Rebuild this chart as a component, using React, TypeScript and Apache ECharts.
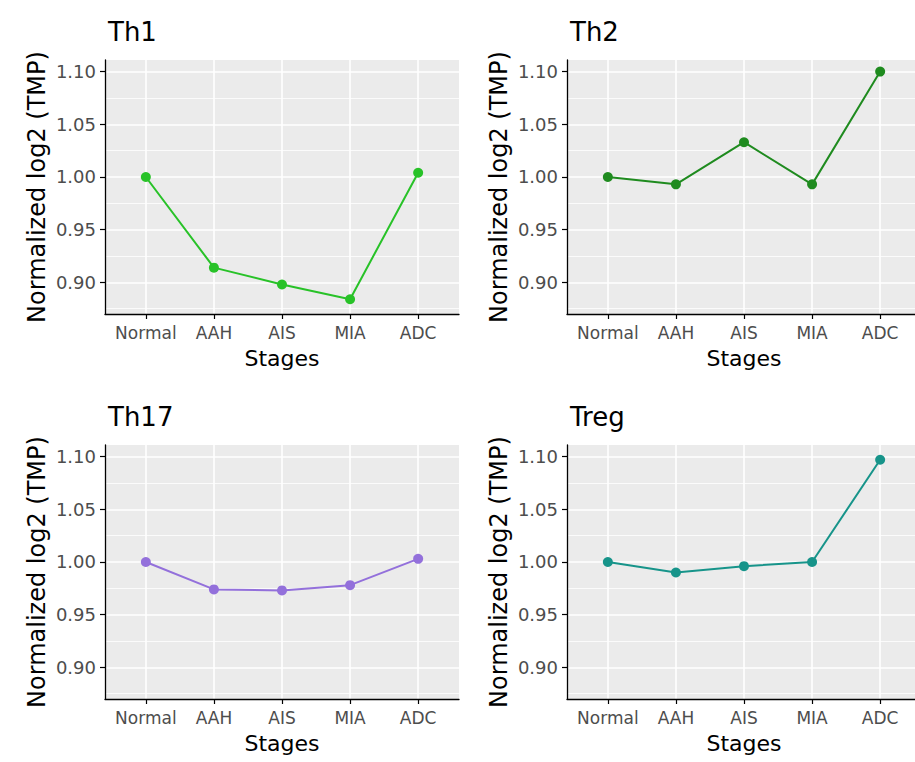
import React, { useEffect, useRef } from "react";
import * as echarts from "echarts";

const stages = ["Normal", "AAH", "AIS", "MIA", "ADC"];
const panelTitles = ["Th1", "Th2", "Th17", "Treg"];
const th1 = [1.0, 0.914, 0.898, 0.884, 1.004];
const th2 = [1.0, 0.993, 1.033, 0.993, 1.1];
const th17 = [1.0, 0.974, 0.973, 0.978, 1.003];
const treg = [1.0, 0.99, 0.996, 1.0, 1.097];
const yTicks = [0.9, 0.95, 1.0, 1.05, 1.1];
const yMinorTicks = [0.875, 0.925, 0.975, 1.025, 1.075];
const yMin = 0.87;
const yMax = 1.111;
const colors = ["#28c228", "#1f8b1f", "#9370db", "#17948a"];
const seriesData = [th1, th2, th17, treg];

const FONT = "DejaVu Sans";
const panels = [
  { l: 105, t: 60 },
  { l: 567, t: 60 },
  { l: 105, t: 445 },
  { l: 567, t: 445 },
];
const PW = 354;
const PH = 254;

function buildOption() {
  const grid: any[] = [];
  const xAxis: any[] = [];
  const yAxis: any[] = [];
  const series: any[] = [];
  const title: any[] = [];
  const step = PW / 5.2;
  panels.forEach((p, i) => {
    grid.push({
      left: p.l,
      top: p.t,
      width: PW,
      height: PH,
      show: true,
      backgroundColor: "#ebebeb",
      borderWidth: 0,
    });
    grid.push({
      left: p.l + 0.6 * step,
      top: p.t,
      width: 4 * step,
      height: PH,
      show: false,
    });
    xAxis.push({
      gridIndex: 2 * i,
      type: "value",
      min: 0,
      max: 1,
      axisLine: { show: true, onZero: false, lineStyle: { color: "#000", width: 1.3 } },
      axisTick: { show: false },
      axisLabel: { show: false },
      splitLine: { show: false },
    });
    xAxis.push({
      gridIndex: 2 * i + 1,
      type: "category",
      boundaryGap: false,
      data: stages,
      axisLine: { show: false },
      axisTick: { show: true, interval: 0, length: 5, lineStyle: { color: "#000", width: 1.2 } },
      axisLabel: { interval: 0, color: "#4d4d4d", fontSize: 17, fontFamily: FONT, margin: 10 },
      splitLine: { show: true, interval: 0, lineStyle: { color: "#ffffff", width: 1.6 } },
      name: "Stages",
      nameLocation: "middle",
      nameGap: 33,
      nameTextStyle: { color: "#000", fontSize: 22, fontFamily: FONT },
    });
    yAxis.push({
      gridIndex: 2 * i,
      type: "value",
      min: yMin,
      max: yMax,
      axisLine: { show: true, lineStyle: { color: "#000", width: 1.3 } },
      axisTick: { show: true, length: 5, customValues: yTicks, lineStyle: { color: "#000", width: 1.2 } },
      axisLabel: {
        color: "#4d4d4d",
        fontSize: 18,
        fontFamily: FONT,
        margin: 9,
        customValues: yTicks,
        formatter: (v: number) => v.toFixed(2),
      },
      splitLine: { show: true, lineStyle: { color: "#ffffff", width: 1.6 } },
      name: "Normalized log2 (TMP)",
      nameLocation: "middle",
      nameGap: 56,
      nameTextStyle: { color: "#000", fontSize: 24, fontFamily: FONT },
    });
    yAxis.push({
      gridIndex: 2 * i,
      type: "value",
      min: yMin,
      max: yMax,
      position: "left",
      axisLine: { show: false },
      axisTick: { show: false, customValues: yMinorTicks },
      axisLabel: { show: false, customValues: yMinorTicks },
      splitLine: { show: true, lineStyle: { color: "#ffffff", width: 0.8 } },
    });
    yAxis.push({
      gridIndex: 2 * i + 1,
      type: "value",
      min: yMin,
      max: yMax,
      show: false,
      splitLine: { show: false },
    });
    series.push({
      type: "line",
      xAxisIndex: 2 * i + 1,
      yAxisIndex: 3 * i + 2,
      data: seriesData[i],
      symbol: "circle",
      symbolSize: 10,
      color: colors[i],
      lineStyle: { color: colors[i], width: 2 },
      itemStyle: { color: colors[i] },
    });
    title.push({
      text: panelTitles[i],
      left: p.l - 2,
      top: p.t - 46,
      textStyle: { color: "#000", fontSize: 26, fontWeight: "normal", fontFamily: FONT },
    });
  });
  return {
    animation: false,
    backgroundColor: "#ffffff",
    title,
    grid,
    xAxis,
    yAxis,
    series,
  };
}

export default function App() {
  const ref = useRef<HTMLDivElement>(null);
  useEffect(() => {
    if (!ref.current) return;
    const chart = echarts.init(ref.current, undefined, { renderer: "svg" });
    chart.setOption(buildOption() as any);
    return () => chart.dispose();
  }, []);
  return (
    <div
      ref={ref}
      style={{ position: "absolute", left: 0, top: 0, width: 915, height: 762 }}
    />
  );
}
